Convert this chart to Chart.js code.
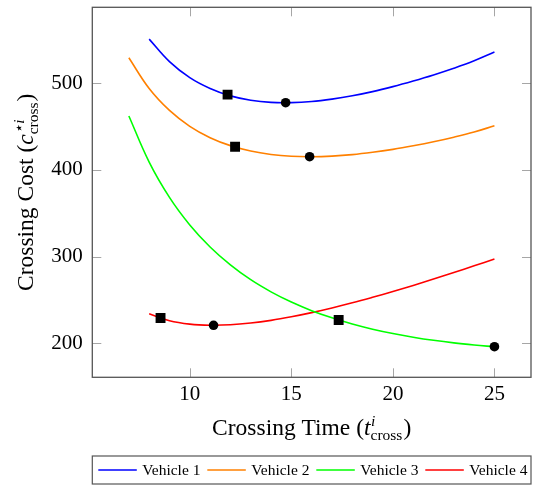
<!DOCTYPE html>
<html>
<head>
<meta charset="utf-8">
<script src="https://cdn.jsdelivr.net/npm/chart.js@4.4.0/dist/chart.umd.min.js"></script>
<style>
  html, body { margin: 0; padding: 0; background: #fff; }
  #wrap { width: 538px; height: 485px; }
</style>
</head>
<body>
<div id="wrap"><canvas id="costChart" width="538" height="485"></canvas></div>
<script>
// values
const vehicleNames = ['Vehicle 1', 'Vehicle 2', 'Vehicle 3', 'Vehicle 4'];
const vehicleColors = ['#0000ff', '#ff8000', '#00ff00', '#ff0000'];

const time1 = [8, 9, 10, 11, 12, 13, 14, 15, 16, 17, 18, 19, 20, 21, 22, 23, 24, 25];
const cost1 = [551, 525, 506.5, 494, 485.5, 480.5, 478, 477.7, 479, 481.8, 485.6, 490.4, 496.2, 502.7, 509.7, 517.4, 526, 536];

const time2 = [7, 8, 9, 10, 11, 12, 13, 14, 15, 16, 17, 18, 19, 20, 21, 22, 23, 24, 25];
const cost2 = [529.5, 494, 468.7, 450.4, 437.3, 428.1, 421.8, 417.9, 415.8, 415.3, 416, 417.7, 420.4, 423.8, 427.9, 432.5, 437.8, 443.8, 451];

const time3 = [7, 8, 9, 10, 11, 12, 13, 14, 15, 16, 17, 18, 19, 20, 21, 22, 23, 24, 25];
const cost3 = [462.3, 409.1, 368.4, 336.6, 311.2, 290.5, 273.4, 259.4, 247.6, 237.7, 229.4, 222.3, 216.3, 211.3, 207.1, 203.5, 200.5, 198.1, 196.1];

const time4 = [8, 9, 10, 11, 12, 13, 14, 15, 16, 17, 18, 19, 20, 21, 22, 23, 24, 25];
const cost4 = [234, 226.1, 222.2, 220.9, 221.4, 223.4, 226.5, 230.6, 235.4, 240.8, 246.7, 253.1, 259.8, 266.8, 274.1, 281.7, 289.4, 297.3];

// black square / circle markers
const squareTime = [11.86, 12.23, 17.33, 8.56];
const squareCost = [487, 426.8, 226.9, 229.2];
const circleTime = [14.72, 15.9, 25, 11.17];
const circleCost = [477.6, 415.3, 196.1, 220.8];

const xTicks = [10, 15, 20, 25];
const yTicks = [200, 300, 400, 500];

const serif = '"Liberation Serif", "Times New Roman", serif';

const curveTimes = [time1, time2, time3, time4];
const curveCosts = [cost1, cost2, cost3, cost4];

const datasets = vehicleNames.map((name, i) => ({
  label: name,
  data: curveTimes[i].map((t, k) => ({ x: t, y: curveCosts[i][k] })),
  borderColor: vehicleColors[i],
  backgroundColor: vehicleColors[i],
  borderWidth: 1.6,
  showLine: true,
  pointRadius: 0,
  tension: 0.4,
  order: 1,
  isCurve: true
}));

datasets.push({
  label: 'squares',
  data: squareTime.map((t, k) => ({ x: t, y: squareCost[k] })),
  pointStyle: 'rect',
  pointRadius: 7,
  backgroundColor: '#000',
  borderColor: '#000',
  borderWidth: 0,
  showLine: false,
  order: 0
});
datasets.push({
  label: 'circles',
  data: circleTime.map((t, k) => ({ x: t, y: circleCost[k] })),
  pointStyle: 'circle',
  pointRadius: 4.8,
  backgroundColor: '#000',
  borderColor: '#000',
  borderWidth: 0,
  showLine: false,
  order: 0
});

// draws text runs with sub/superscripts, centred on x
function richWidth(ctx, parts) {
  let w = 0;
  parts.forEach(p => {
    if (p.text !== undefined) {
      ctx.font = (p.italic ? 'italic ' : '') + p.size + 'px ' + serif;
      w += ctx.measureText(p.text).width;
    } else {
      ctx.font = (p.supItalic ? 'italic ' : '') + p.size + 'px ' + serif;
      const a = ctx.measureText(p.sup).width;
      ctx.font = p.size + 'px ' + serif;
      const b = ctx.measureText(p.sub).width;
      w += Math.max(a, b) + 1;
    }
  });
  return w;
}

function drawRich(ctx, parts, cx, baseline) {
  let x = cx - richWidth(ctx, parts) / 2;
  ctx.textAlign = 'left';
  ctx.textBaseline = 'alphabetic';
  ctx.fillStyle = '#000';
  parts.forEach(p => {
    if (p.text !== undefined) {
      ctx.font = (p.italic ? 'italic ' : '') + p.size + 'px ' + serif;
      ctx.fillText(p.text, x, baseline);
      x += ctx.measureText(p.text).width;
    } else {
      ctx.font = (p.supItalic ? 'italic ' : '') + p.size + 'px ' + serif;
      ctx.fillText(p.sup, x + 0.5, baseline - 9.5);
      const a = ctx.measureText(p.sup).width;
      ctx.font = p.size + 'px ' + serif;
      ctx.fillText(p.sub, x, baseline + 5);
      const b = ctx.measureText(p.sub).width;
      x += Math.max(a, b) + 1;
    }
  });
}

const xTitle = [
  { text: 'Crossing Time (', size: 23.5 },
  { text: 't', size: 23.5, italic: true },
  { sup: 'i', sub: 'cross', size: 15.5, supItalic: true },
  { text: ')', size: 23.5 }
];
const yTitle = [
  { text: 'Crossing Cost (', size: 23.5 },
  { text: 'c', size: 23.5, italic: true },
  { sup: '\u22c6i', sub: 'cross', size: 15.5, supItalic: true },
  { text: ')', size: 23.5 }
];

const pgfAxis = {
  id: 'pgfAxis',
  afterDraw(chart) {
    const { ctx, chartArea: a, scales } = chart;
    ctx.save();
    // inward ticks on all four sides
    ctx.strokeStyle = '#a6a6a6';
    ctx.lineWidth = 1;
    ctx.beginPath();
    xTicks.forEach(v => {
      const px = Math.round(scales.x.getPixelForValue(v)) + 0.5;
      ctx.moveTo(px, a.bottom); ctx.lineTo(px, a.bottom - 9);
      ctx.moveTo(px, a.top); ctx.lineTo(px, a.top + 9);
    });
    yTicks.forEach(v => {
      const py = Math.round(scales.y.getPixelForValue(v)) + 0.5;
      ctx.moveTo(a.left, py); ctx.lineTo(a.left + 9, py);
      ctx.moveTo(a.right, py); ctx.lineTo(a.right - 9, py);
    });
    ctx.stroke();
    // frame
    ctx.strokeStyle = '#555';
    ctx.lineWidth = 1.3;
    ctx.strokeRect(a.left, a.top, a.right - a.left, a.bottom - a.top);

    // axis titles
    const cx = (a.left + a.right) / 2;
    drawRich(ctx, xTitle, cx, 435);
    ctx.save();
    ctx.translate(33, (a.top + a.bottom) / 2);
    ctx.rotate(-Math.PI / 2);
    drawRich(ctx, yTitle, 0, 0);
    ctx.restore();

    // legend box
    const top = 456, bottom = 484;
    ctx.strokeStyle = '#555';
    ctx.lineWidth = 1.2;
    ctx.strokeRect(a.left, top, a.right - a.left, bottom - top);
    const my = (top + bottom) / 2;
    ctx.font = '15.5px ' + serif;
    ctx.textBaseline = 'middle';
    ctx.textAlign = 'left';
    chart.data.datasets.filter(d => d.isCurve).forEach((d, i) => {
      const x0 = 98.3 + i * 109;
      ctx.strokeStyle = d.borderColor;
      ctx.lineWidth = 1.6;
      ctx.beginPath();
      ctx.moveTo(x0, my); ctx.lineTo(x0 + 38.5, my);
      ctx.stroke();
      ctx.fillStyle = '#000';
      ctx.fillText(d.label, x0 + 44, my + 1);
    });
    ctx.restore();
  }
};

new Chart(document.getElementById('costChart'), {
  type: 'scatter',
  data: { datasets: datasets },
  options: {
    responsive: false,
    animation: false,
    layout: { padding: { left: 0, right: 1.5, top: 7.3, bottom: 0 } },
    plugins: { legend: { display: false }, tooltip: { enabled: false } },
    scales: {
      x: {
        type: 'linear',
        min: 5.2,
        max: 26.8,
        afterBuildTicks: s => { s.ticks = xTicks.map(v => ({ value: v })); },
        afterFit: s => { s.height = 107.7; s.paddingLeft = 0; s.paddingRight = 0; },
        grid: { display: false, drawTicks: false },
        border: { display: false },
        ticks: { font: { family: serif, size: 21 }, color: '#000', padding: 4.3 }
      },
      y: {
        type: 'linear',
        min: 160.8,
        max: 587.7,
        afterBuildTicks: s => { s.ticks = yTicks.map(v => ({ value: v })); },
        afterFit: s => { s.width = 92.3; s.paddingTop = 0; s.paddingBottom = 0; },
        grid: { display: false, drawTicks: false },
        border: { display: false },
        ticks: { font: { family: serif, size: 21 }, color: '#000', padding: 9.6 }
      }
    }
  },
  plugins: [pgfAxis]
});
</script>
</body>
</html>
